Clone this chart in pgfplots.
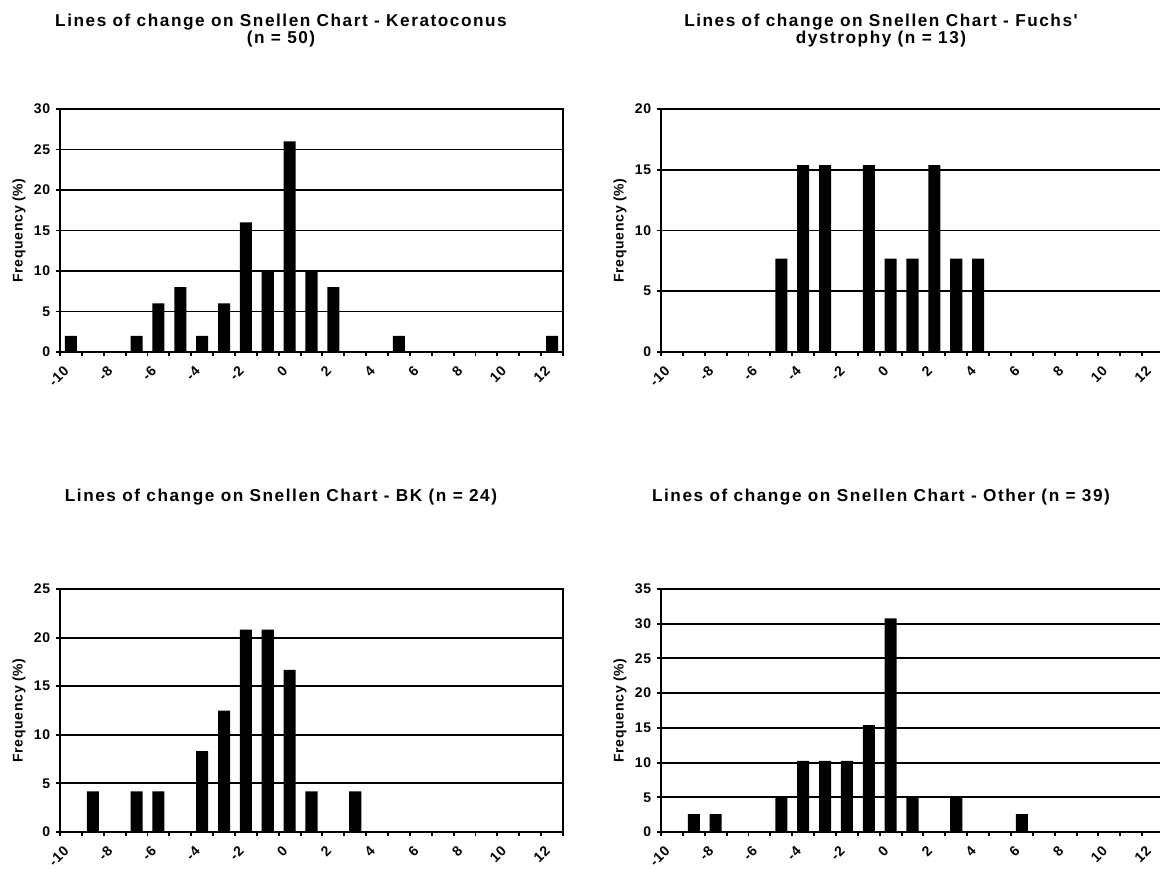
\documentclass[border=0pt]{standalone}
\usepackage{fontspec}
\setmainfont{Liberation Sans}
\newfontfamily\tfont[LetterSpace=9]{Liberation Sans}
\newfontfamily\afont[LetterSpace=5]{Liberation Sans}
\usepackage{pgfplots}
\pgfplotsset{compat=1.18}
\pgfplotsset{snel/.style={
  width=377.25pt, height=182.25pt, scale only axis,
  xmin=-10, xmax=13, ymin=0,
  xtick={-10,-8,...,12},
  xticklabels={-10,-8,-6,-4,-2,0,2,4,6,8,10,12},
  minor xtick={-9,-7,...,13},
  tick align=outside, xtick pos=left, ytick pos=left,
  major tick length=3.2pt, minor tick length=3.2pt,
  ymajorgrids, grid style={black, line width=1.45pt},
  axis line style={black, line width=1.45pt},
  every tick/.style={black, line width=1.45pt},
  every minor tick/.style={black, line width=1.45pt},
  /pgf/number format/assume math mode=true,
  ticklabel style={font=\afont\bfseries\fontsize{10.5}{12}\selectfont},
  xticklabel style={rotate=45, anchor=north east, inner sep=1pt, yshift=-5pt, xshift=-2pt},
  yticklabel style={inner sep=1pt, xshift=-3pt},
  ylabel={Frequency (\%)},
  every axis y label/.style={at={(axis description cs:-0.0815,0.5)}, rotate=90, anchor=center,
     font=\afont\bfseries\fontsize{10.5}{12}\selectfont},
  ybar, bar width=0.55,
}}
\begin{document}
\begin{tikzpicture}
\path[use as bounding box, clip] (0,0) rectangle (870pt,651pt);
% titles
\tikzset{ttl/.style={anchor=base, font=\tfont\bfseries\fontsize{12.9}{14}\selectfont}}
\node[ttl] at (210.75pt,630.75pt) {Lines of change on Snellen Chart - Keratoconus};
\node[ttl] at (210.75pt,618pt) {(n = 50)};
\node[ttl] at (660.75pt,630.75pt) {Lines of change on Snellen Chart - Fuchs'};
\node[ttl] at (660.75pt,618pt) {dystrophy (n = 13)};
\node[ttl] at (210.75pt,274.5pt) {Lines of change on Snellen Chart - BK (n = 24)};
\node[ttl] at (660.75pt,274.5pt) {Lines of change on Snellen Chart - Other (n = 39)};

\begin{axis}[snel, at={(45pt,387pt)}, anchor=south west, ymax=30, ytick={0,5,...,30}]
\addplot[fill=black, draw=none, bar shift=0pt] coordinates {(-9.5,2) (-6.5,2) (-5.5,6) (-4.5,8) (-3.5,2) (-2.5,6) (-1.5,16) (-0.5,10) (0.5,26) (1.5,10) (2.5,8) (5.5,2) (12.5,2)};
\end{axis}

\begin{axis}[snel, at={(495.75pt,387pt)}, anchor=south west, ymax=20, ytick={0,5,...,20}]
\addplot[fill=black, draw=none, bar shift=0pt] coordinates {(-4.5,7.69) (-3.5,15.38) (-2.5,15.38) (-0.5,15.38) (0.5,7.69) (1.5,7.69) (2.5,15.38) (3.5,7.69) (4.5,7.69)};
\end{axis}

\begin{axis}[snel, at={(45pt,27pt)}, anchor=south west, ymax=25, ytick={0,5,...,25}]
\addplot[fill=black, draw=none, bar shift=0pt] coordinates {(-8.5,4.17) (-6.5,4.17) (-5.5,4.17) (-3.5,8.33) (-2.5,12.5) (-1.5,20.83) (-0.5,20.83) (0.5,16.67) (1.5,4.17) (3.5,4.17)};
\end{axis}

\begin{axis}[snel, at={(495.75pt,27pt)}, anchor=south west, ymax=35, ytick={0,5,...,35}]
\addplot[fill=black, draw=none, bar shift=0pt] coordinates {(-8.5,2.56) (-7.5,2.56) (-4.5,5.13) (-3.5,10.26) (-2.5,10.26) (-1.5,10.26) (-0.5,15.38) (0.5,30.77) (1.5,5.13) (3.5,5.13) (6.5,2.56)};
\end{axis}
\end{tikzpicture}
\end{document}
